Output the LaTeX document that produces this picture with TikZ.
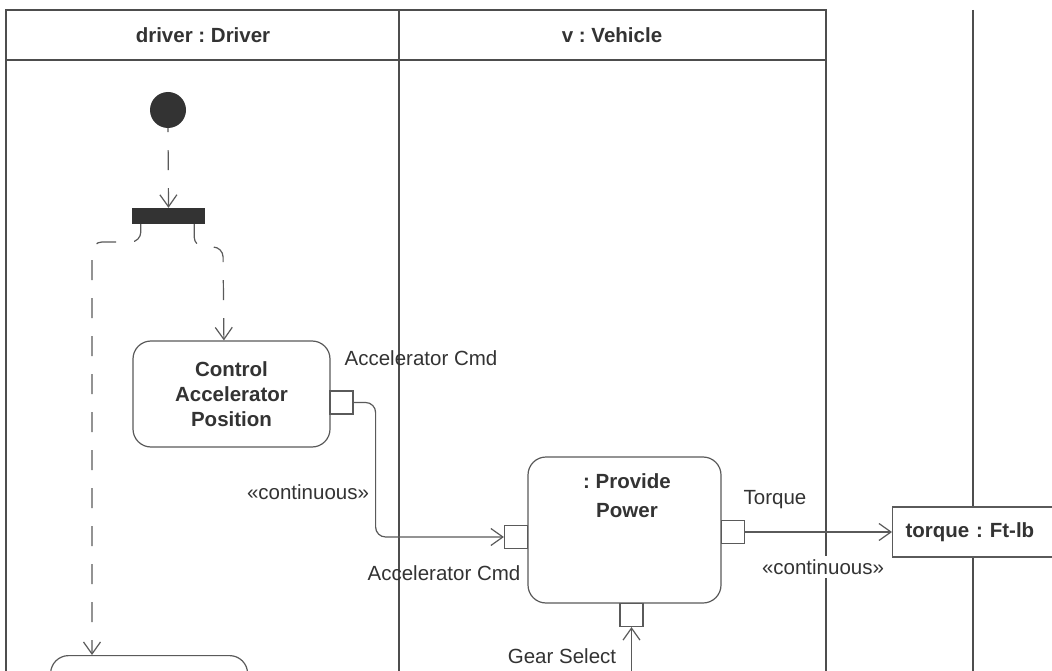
\documentclass[tikz,border=0pt]{standalone}
\usepackage{fontspec}
\setmainfont{Liberation Sans}
\usetikzlibrary{arrows.meta}
\definecolor{lanec}{HTML}{4D4D4D}
\definecolor{edgec}{HTML}{5A5A5A}
\definecolor{txtc}{HTML}{333333}
\frenchspacing
\begin{document}
\begin{tikzpicture}[x=1pt,y=-1pt,
  every node/.style={font=\fontsize{20.5}{25}\selectfont, text=txtc},
  lane/.style={draw=lanec, line width=1.6pt},
  action/.style={draw=edgec, line width=1.2pt, rounded corners=18pt, fill=white, inner sep=0pt, align=center, font=\fontsize{20.5}{25}\selectfont\bfseries},
  pin/.style={draw=edgec, line width=1.2pt, fill=white, minimum size=23pt, inner sep=0pt},
  flow/.style={draw=edgec, line width=1.2pt, -{Straight Barb[length=12pt,width=17pt,line width=1.2pt]}},
  ctrl/.style={flow, dash pattern=on 20pt off 18pt},
  lbl/.style={inner sep=1pt}
]
\useasboundingbox (0,0) rectangle (1052,671);
\clip (0,0) rectangle (1052,671);
\fill[white] (0,0) rectangle (1052,671);

% swimlanes
\draw[lane] (6,671) -- (6,10) -- (826,10) -- (826,671);
\draw[lane] (6,60) -- (826,60);
\draw[lane] (399,10) -- (399,671);
\draw[lane] (973,10) -- (973,671);
\node[font=\fontsize{20.5}{25}\selectfont\bfseries] (h1) at (203,35) {driver : Driver};
\node[font=\fontsize{20.5}{25}\selectfont\bfseries] (h2) at (612,35) {v : Vehicle};

% initial and fork
\node[circle, fill=txtc, minimum size=36pt, inner sep=0pt] (init) at (168,110) {};
\node[rectangle, fill=txtc, minimum width=73pt, minimum height=16pt, inner sep=0pt] (fork) at (168.5,216) {};

% actions
\node[action, minimum width=197pt, minimum height=106pt] (cap) at (231.5,394) {Control\\Accelerator\\Position};
\node[pin] (capport) at (341.5,402.5) {};
\node[action, minimum width=197pt, minimum height=60pt, anchor=north west] (bot) at (50,655) {};

\node[action, minimum width=193pt, minimum height=146pt] (pp) at (624.5,530) {};
\node[font=\fontsize{20.5}{29}\selectfont\bfseries, align=center] (pptitle) at (627,496) {: Provide\\Power};
\node[pin] (ppin) at (516,537) {};
\node[pin] (ppout) at (733,532) {};
\node[pin] (ppbot) at (631.5,615) {};

\node[draw=edgec, line width=1.2pt, fill=white, anchor=west, minimum height=50pt, inner xsep=13pt, text width=170pt, align=left, font=\fontsize{20.5}{25}\selectfont\bfseries] (torque) at (892,532) {torque : Ft-lb};

% labels
\node[lbl] (l1) at (421,358) {Accelerator Cmd};
\node[lbl] (l2) at (308,492) {«continuous»};
\node[lbl] (l3) at (444,573) {Accelerator Cmd};
\node[lbl] (l4) at (562,656) {Gear Select};
\node[lbl] (l5) at (775,500) {Torque};
\node[lbl, fill=white, inner sep=3pt] (l6) at (823,567) {«continuous»};

% control flows
\coordinate (lc) at (92,242);
\coordinate (rc) at (223,247);
\draw[ctrl, dash phase=-22pt] (init.south) -- (fork.north);
\draw[ctrl, rounded corners=10pt] ([xshift=9pt]fork.south west) |- (lc) -- ([xshift=42pt]bot.north west);
\draw[ctrl, rounded corners=10pt] ([xshift=-11pt]fork.south east) |- (rc) -- ([xshift=91.5pt]cap.north west);

% object flows
\draw[flow, rounded corners=10pt] (capport.east) -- ++(22,0) |- (ppin.west);
\draw[flow] (ppout.east) -- (torque.west);
\coordinate (gs) at (631.5,675);
\draw[flow] (gs) -- (ppbot.south);
\end{tikzpicture}
\end{document}
